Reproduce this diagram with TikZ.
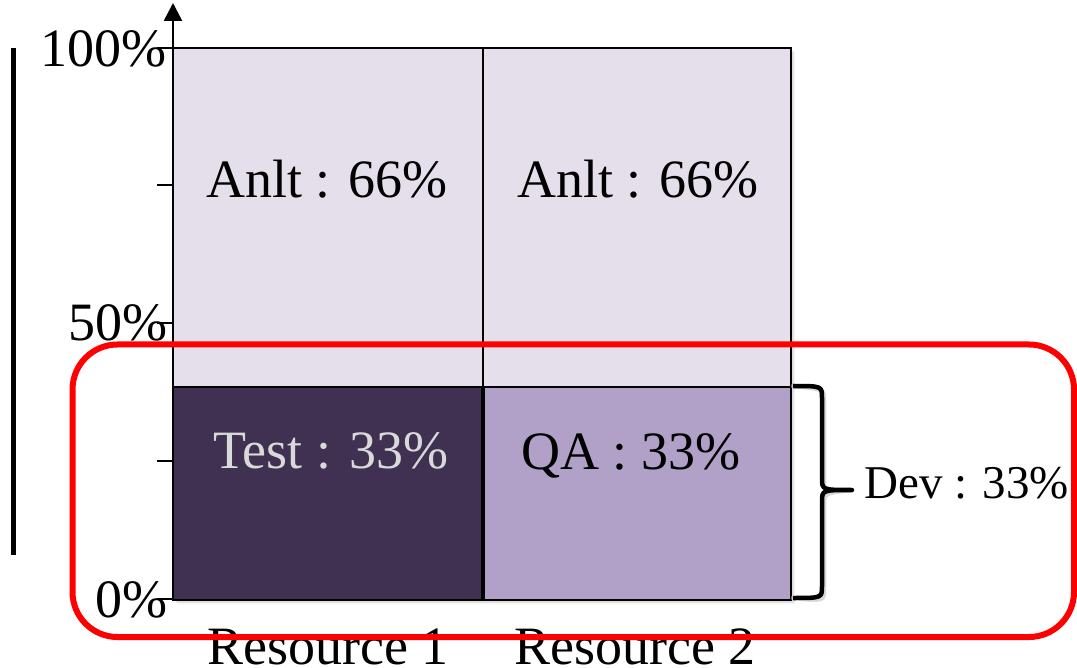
\documentclass[tikz,border=0pt]{standalone}
\usepackage{fontspec}
\setmainfont{Liberation Serif}
\usetikzlibrary{arrows.meta}
\definecolor{anltfill}{HTML}{E5DFEC}
\definecolor{testfill}{HTML}{403152}
\definecolor{qafill}{HTML}{B1A0C7}
\definecolor{testtext}{HTML}{D9D9D9}
\definecolor{devred}{HTML}{FF0000}
\tikzset{
  lbl/.style={inner sep=0pt, anchor=base, font=\fontsize{54}{60}\selectfont},
  axlbl/.style={inner sep=0pt, anchor=base east, font=\fontsize{54}{60}\selectfont},
  cell/.style={draw=black, line width=2.5pt},
}
\begin{document}
\begin{tikzpicture}[x=1pt,y=-1pt]
\useasboundingbox (0,0) rectangle (1077,668);

% soft shadow under the bars
\foreach \d in {1,2,3,4}
  \fill[black, opacity=0.05] (173+\d,48+\d) rectangle (791+\d,600+\d);

% bar segments
\fill[anltfill] (173,48) rectangle (791,387);
\fill[testfill] (173,387) rectangle (483,600);
\fill[qafill] (483,387) rectangle (791,600);
\draw[cell] (173,48) rectangle (791,600);
\draw[cell] (173,387) -- (791,387);
\draw[cell] (483,48) -- (483,387);
\draw[black, line width=4pt] (483,387) -- (483,600);

% vertical axis with arrow and ticks
\coordinate (ax0) at (173,600);
\coordinate (axtop) at (173,3);
\draw[line width=2.5pt, -{Triangle[length=18pt,width=18pt]}] (ax0) -- (axtop);
\foreach \ty in {48,185,323,461,599}
  \draw[line width=2pt] (157,\ty) -- (173,\ty);

% left marker bar
\draw[line width=5pt] (13,48) -- (13,555);

% axis labels
\node[axlbl] (p100) at (167,67) {100\%};
\node[axlbl] (p50) at (168,341) {50\%};
\node[axlbl] (p0) at (168,617) {0\%};

% segment labels
\node[lbl] (anlt1) at (327,198) {Anlt : 66\%};
\node[lbl] (anlt2) at (638,198) {Anlt : 66\%};
\node[lbl, text=testtext] (test) at (331,468) {Test : 33\%};
\node[lbl] (qa) at (631,469) {QA : 33\%};

% resource labels
\node[lbl] (res1) at (328,664) {Resource 1};
\node[lbl] (res2) at (635,664) {Resource 2};

% brace for the development share
\coordinate (brtop) at (793,386);
\coordinate (brtip) at (852,490);
\coordinate (brbot) at (793,598);
\draw[black!25, line width=4.5pt, line cap=round, opacity=0.6, shift={(2,3)}]
  (brtop) .. controls (822,386) .. (822,398) -- (822,478)
  .. controls (822,490) .. (brtip)
  .. controls (822,490) .. (822,502) -- (822,586)
  .. controls (822,598) .. (brbot);
\draw[black, line width=4.5pt, line join=round]
  (brtop) .. controls (822,386) .. (822,398) -- (822,478)
  .. controls (822,490) .. (brtip)
  .. controls (822,490) .. (822,502) -- (822,586)
  .. controls (822,598) .. (brbot);
\node[inner sep=0pt, anchor=base west, font=\fontsize{47}{52}\selectfont] (dev) at (864,498) {Dev : 33\%};

% red highlight frame
\draw[devred, line width=6pt, rounded corners=45pt] (72.5,344.5) rectangle (1074,637);
\end{tikzpicture}
\end{document}
